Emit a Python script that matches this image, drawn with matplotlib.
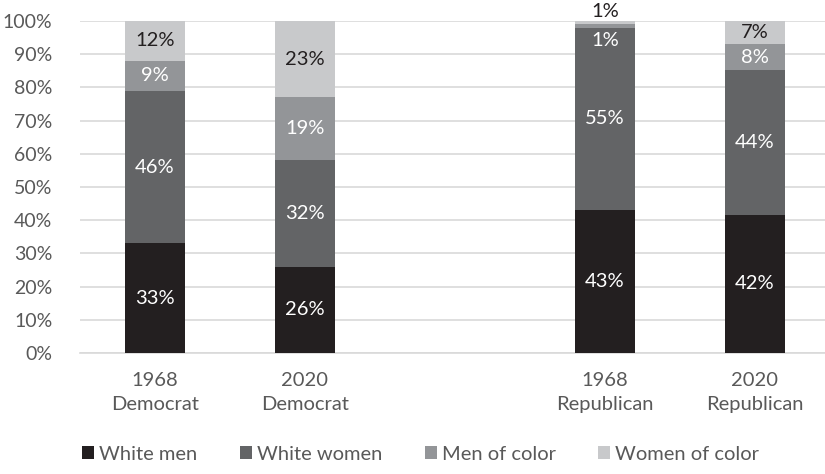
import matplotlib.pyplot as plt
import numpy as np

plt.rcParams['font.family'] = ['Lato', 'DejaVu Sans']

# data (percent of delegates)
groups = ["1968\nDemocrat", "2020\nDemocrat", "1968\nRepublican", "2020\nRepublican"]
positions = [0, 1, 3, 4]
white_men = [33, 26, 43, 42]
white_women = [46, 32, 55, 44]
men_of_color = [9, 19, 1, 8]
women_of_color = [12, 23, 1, 7]

series = [white_men, white_women, men_of_color, women_of_color]
names = ["White men", "White women", "Men of color", "Women of color"]
colors = ["#231f20", "#636466", "#939598", "#c8c9cb"]
text_colors = ["white", "white", "white", "#231f20"]

vals = np.array(series, dtype=float)
shares = vals / vals.sum(axis=0) * 100  # 100% stacked

fig = plt.figure(figsize=(8.25, 4.74), dpi=100)
ax = fig.add_axes([80 / 825, (474 - 353) / 474, 745 / 825, 332 / 474])

bottom = np.zeros(len(groups))
for i in range(4):
    ax.bar(positions, shares[i], bottom=bottom, width=0.4, color=colors[i],
           label=names[i], zorder=3)
    for j, p in enumerate(positions):
        y = bottom[j] + shares[i][j] / 2
        if j == 2 and i == 2:
            y = 94
        if j == 2 and i == 3:
            y = 103
        ax.text(p, y, f"{int(vals[i][j])}%", ha="center", va="center",
                fontsize=14.5, color=text_colors[i], zorder=4)
    bottom += shares[i]

ax.set_ylim(0, 100)
ax.set_xlim(-0.5, (825 - 80) / 150 - 0.5)
ax.set_yticks(np.arange(0, 101, 10))
ax.set_yticklabels([f"{t}%" for t in range(0, 101, 10)])
ax.set_xticks(positions)
ax.set_xticklabels(groups, linespacing=1.45)
ax.tick_params(axis="both", length=0, labelsize=14.5, colors="#595959")
ax.tick_params(axis="x", pad=14)
ax.tick_params(axis="y", pad=20, labelsize=14)
ax.grid(axis="y", color="#d9d9d9", linewidth=1.2, zorder=0)
for s in ["top", "right", "left"]:
    ax.spines[s].set_visible(False)
ax.spines["bottom"].set_color("#d9d9d9")
ax.spines["bottom"].set_linewidth(1.2)

fig.legend(loc="lower center", bbox_to_anchor=(0.51, -0.015), ncol=4, frameon=False,
           fontsize=14.5, handlelength=0.6, handleheight=0.6, handletextpad=0.25,
           columnspacing=2.1, labelcolor="#595959")

fig.savefig("out.png", dpi=100)
